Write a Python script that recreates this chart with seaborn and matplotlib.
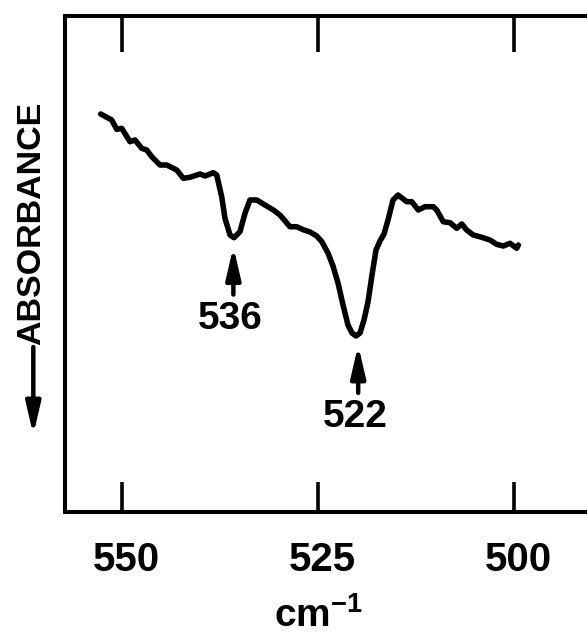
import matplotlib
matplotlib.use("Agg")
import matplotlib.pyplot as plt
import matplotlib.transforms as mtransforms
import seaborn as sns
import pandas as pd

# ---- data ----
wavenumber = [552.70, 551.30, 550.66, 550.03, 548.97, 548.33, 547.48, 546.84, 546.20,
              545.15, 544.29, 543.02, 542.18, 541.33, 540.05, 539.41, 538.36, 537.92,
              537.29, 536.87, 536.23, 535.72, 534.96, 534.32, 533.69, 532.83, 531.77,
              530.71, 529.86, 528.59, 527.73, 526.93,
              526.04, 525.18, 524.51, 523.75, 523.11, 522.47, 521.83, 521.20, 520.69,
              520.18, 519.67, 519.16, 518.65, 518.14, 517.63, 517.12, 516.61, 516.10,
              515.46, 514.83,
              513.72, 513.08, 512.24, 511.39, 510.33, 509.90, 509.06, 508.20, 507.35,
              506.71, 506.08, 505.24, 504.17, 503.11, 502.26, 501.41, 500.56, 499.71,
              499.50]
absorbance = [80.23, 79.02, 77.14, 77.34, 74.64, 74.99, 73.31, 72.97, 71.62,
              69.94, 69.94, 68.93, 67.26, 67.46, 68.13, 67.72, 68.39, 67.92,
              63.55, 59.19, 55.82, 55.28, 56.49, 60.20, 62.88, 62.88, 61.87,
              60.86, 59.85, 57.49, 57.49, 56.90,
              56.43, 55.62, 54.41, 52.19, 49.57, 46.14, 41.70, 37.67, 36.05,
              35.45, 36.05, 38.67, 42.31, 47.75, 52.79, 54.61, 56.02, 58.85,
              62.88, 63.89,
              62.54, 62.54, 60.86, 61.53, 61.53, 60.86, 58.50, 58.30, 57.17,
              58.04, 56.83, 55.82, 55.36, 54.81, 53.94, 53.60, 54.15, 53.14,
              53.80]

xticks = [550, 525, 500]
xtick_labels = ["550", "525", "500"]

peak_labels = ["536", "522"]
peak_positions = [535.8, 519.9]
peak_minima = [55.3, 35.45]

df = pd.DataFrame({"wavenumber": wavenumber, "absorbance": absorbance})

sns.set_style("white")
plt.rcParams["font.family"] = ["Liberation Sans", "DejaVu Sans"]
plt.rcParams["font.weight"] = "bold"
plt.rcParams["text.color"] = "black"
plt.rcParams["xtick.color"] = "black"
plt.rcParams["xtick.labelcolor"] = "black"
plt.rcParams["mathtext.fontset"] = "custom"
plt.rcParams["mathtext.rm"] = "Liberation Sans:bold"
plt.rcParams["mathtext.it"] = "Liberation Sans:bold"
plt.rcParams["mathtext.bf"] = "Liberation Sans:bold"

fig = plt.figure(figsize=(5.87, 6.37), dpi=100)
ax = fig.add_axes([65.4 / 587, 1 - 511.7 / 637, 1 - 65.4 / 587, (511.7 - 16) / 637])

sns.lineplot(data=df, x="wavenumber", y="absorbance", ax=ax, color="black",
             linewidth=4.0, sort=False, solid_joinstyle="round", solid_capstyle="round")

ax.set_xlim(557.2, 490.75)
ax.set_ylim(0, 100)
ax.set_xlabel("")
ax.set_ylabel("")
ax.set_yticks([])

for side in ["left", "top", "bottom"]:
    ax.spines[side].set_visible(True)
    ax.spines[side].set_linewidth(2.9)
    ax.spines[side].set_color("black")
ax.spines["right"].set_visible(False)

ax.set_xticks(xticks)
ax.set_xticklabels(xtick_labels)
ax.tick_params(axis="x", direction="in", length=21.6, width=2.6, pad=21,
               labelsize=29, bottom=True, top=False, colors="black")
shift = mtransforms.ScaledTranslation(4 / 100, 0, fig.dpi_scale_trans)
for lab in ax.get_xticklabels():
    lab.set_fontweight("bold")
    lab.set_color("black")
    lab.set_transform(lab.get_transform() + shift)

sec = ax.secondary_xaxis("top")
sec.set_xticks(xticks)
sec.tick_params(axis="x", direction="in", length=26, width=2.6, labeltop=False,
                colors="black")
sec.spines["top"].set_linewidth(2.9)
sec.spines["top"].set_color("black")

arrow_style = "-|>,head_length=0.95,head_width=0.22"

# peak markers
for lab, pos, mn in zip(peak_labels, peak_positions, peak_minima):
    ax.annotate("", xy=(pos, mn), xycoords="data",
                xytext=(0, -57), textcoords="offset pixels",
                arrowprops=dict(arrowstyle=arrow_style,
                                lw=3.2, color="black", mutation_scale=20,
                                shrinkA=0, shrinkB=6.5))
    ax.annotate(lab, xy=(pos, mn), xycoords="data",
                xytext=(-3, -81), textcoords="offset pixels",
                ha="center", va="center", fontsize=28, fontweight="bold",
                color="black")

# axis titles
fig.text(32 / 587, 1 - 223 / 637, "ABSORBANCE", rotation=90, ha="center", va="center",
         fontsize=24.5, fontweight="bold", color="black")
fig.add_artist(matplotlib.patches.FancyArrowPatch(
    (33.3 / 587, 1 - 347 / 637), (33.3 / 587, 1 - 435 / 637),
    transform=fig.transFigure, arrowstyle=arrow_style,
    mutation_scale=20, lw=3.2, color="black", shrinkA=0, shrinkB=0))
fig.text(318.8 / 587, 1 - 627 / 637, "cm$^{-1}$", ha="center", va="baseline",
         fontsize=28, fontweight="bold", color="black")

fig.savefig("out.png", dpi=100, facecolor="white")
